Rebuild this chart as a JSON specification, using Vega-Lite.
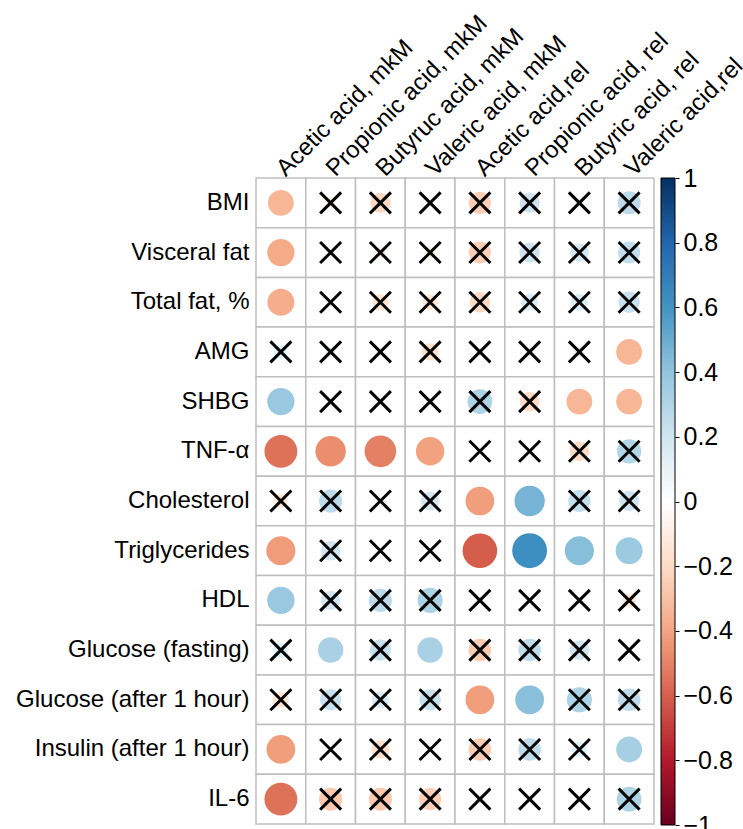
{
  "$schema": "https://vega.github.io/schema/vega-lite/v6.json",
  "autosize": {"type": "pad"},
  "padding": {"left": 15, "top": 10, "right": 0, "bottom": 0},
  "background": "white",
  "bounds": "flush",
  "spacing": 7,
  "config": {
    "view": {"stroke": null},
    "font": "Liberation Sans",
    "axis": {"domain": false, "ticks": false, "grid": false, "labelColor": "black", "labelFont": "Liberation Sans", "labelFontSize": 24, "title": null}
  },
  "hconcat": [
    {
      "width": 398,
      "height": 646,
      "data": {"values": [
        {"row":"BMI","col":"Acetic acid, mkM","r":-0.34,"sig":true},
        {"row":"BMI","col":"Propionic acid, mkM","r":-0.05,"sig":false},
        {"row":"BMI","col":"Butyruc acid, mkM","r":-0.21,"sig":false},
        {"row":"BMI","col":"Valeric acid, mkM","r":0.02,"sig":false},
        {"row":"BMI","col":"Acetic acid,rel","r":-0.25,"sig":false},
        {"row":"BMI","col":"Propionic acid, rel","r":0.21,"sig":false},
        {"row":"BMI","col":"Butyric acid, rel","r":0.05,"sig":false},
        {"row":"BMI","col":"Valeric acid,rel","r":0.27,"sig":false},

        {"row":"Visceral fat","col":"Acetic acid, mkM","r":-0.38,"sig":true},
        {"row":"Visceral fat","col":"Propionic acid, mkM","r":-0.02,"sig":false},
        {"row":"Visceral fat","col":"Butyruc acid, mkM","r":-0.06,"sig":false},
        {"row":"Visceral fat","col":"Valeric acid, mkM","r":-0.06,"sig":false},
        {"row":"Visceral fat","col":"Acetic acid,rel","r":-0.25,"sig":false},
        {"row":"Visceral fat","col":"Propionic acid, rel","r":0.21,"sig":false},
        {"row":"Visceral fat","col":"Butyric acid, rel","r":0.18,"sig":false},
        {"row":"Visceral fat","col":"Valeric acid,rel","r":0.25,"sig":false},

        {"row":"Total fat, %","col":"Acetic acid, mkM","r":-0.37,"sig":true},
        {"row":"Total fat, %","col":"Propionic acid, mkM","r":0.01,"sig":false},
        {"row":"Total fat, %","col":"Butyruc acid, mkM","r":-0.13,"sig":false},
        {"row":"Total fat, %","col":"Valeric acid, mkM","r":-0.12,"sig":false},
        {"row":"Total fat, %","col":"Acetic acid,rel","r":-0.21,"sig":false},
        {"row":"Total fat, %","col":"Propionic acid, rel","r":0.15,"sig":false},
        {"row":"Total fat, %","col":"Butyric acid, rel","r":0.15,"sig":false},
        {"row":"Total fat, %","col":"Valeric acid,rel","r":0.23,"sig":false},

        {"row":"AMG","col":"Acetic acid, mkM","r":0.1,"sig":false},
        {"row":"AMG","col":"Propionic acid, mkM","r":0.05,"sig":false},
        {"row":"AMG","col":"Butyruc acid, mkM","r":0.0,"sig":false},
        {"row":"AMG","col":"Valeric acid, mkM","r":-0.15,"sig":false},
        {"row":"AMG","col":"Acetic acid,rel","r":-0.03,"sig":false},
        {"row":"AMG","col":"Propionic acid, rel","r":0.04,"sig":false},
        {"row":"AMG","col":"Butyric acid, rel","r":0.05,"sig":false},
        {"row":"AMG","col":"Valeric acid,rel","r":-0.34,"sig":true},

        {"row":"SHBG","col":"Acetic acid, mkM","r":0.38,"sig":true},
        {"row":"SHBG","col":"Propionic acid, mkM","r":0.0,"sig":false},
        {"row":"SHBG","col":"Butyruc acid, mkM","r":0.0,"sig":false},
        {"row":"SHBG","col":"Valeric acid, mkM","r":0.0,"sig":false},
        {"row":"SHBG","col":"Acetic acid,rel","r":0.31,"sig":false},
        {"row":"SHBG","col":"Propionic acid, rel","r":-0.2,"sig":false},
        {"row":"SHBG","col":"Butyric acid, rel","r":-0.34,"sig":true},
        {"row":"SHBG","col":"Valeric acid,rel","r":-0.34,"sig":true},

        {"row":"TNF-α","col":"Acetic acid, mkM","r":-0.55,"sig":true},
        {"row":"TNF-α","col":"Propionic acid, mkM","r":-0.47,"sig":true},
        {"row":"TNF-α","col":"Butyruc acid, mkM","r":-0.51,"sig":true},
        {"row":"TNF-α","col":"Valeric acid, mkM","r":-0.41,"sig":true},
        {"row":"TNF-α","col":"Acetic acid,rel","r":0.0,"sig":false},
        {"row":"TNF-α","col":"Propionic acid, rel","r":0.0,"sig":false},
        {"row":"TNF-α","col":"Butyric acid, rel","r":-0.2,"sig":false},
        {"row":"TNF-α","col":"Valeric acid,rel","r":0.3,"sig":false},

        {"row":"Cholesterol","col":"Acetic acid, mkM","r":-0.1,"sig":false},
        {"row":"Cholesterol","col":"Propionic acid, mkM","r":0.27,"sig":false},
        {"row":"Cholesterol","col":"Butyruc acid, mkM","r":0.0,"sig":false},
        {"row":"Cholesterol","col":"Valeric acid, mkM","r":0.18,"sig":false},
        {"row":"Cholesterol","col":"Acetic acid,rel","r":-0.42,"sig":true},
        {"row":"Cholesterol","col":"Propionic acid, rel","r":0.47,"sig":true},
        {"row":"Cholesterol","col":"Butyric acid, rel","r":0.25,"sig":false},
        {"row":"Cholesterol","col":"Valeric acid,rel","r":0.21,"sig":false},

        {"row":"Triglycerides","col":"Acetic acid, mkM","r":-0.43,"sig":true},
        {"row":"Triglycerides","col":"Propionic acid, mkM","r":0.2,"sig":false},
        {"row":"Triglycerides","col":"Butyruc acid, mkM","r":0.0,"sig":false},
        {"row":"Triglycerides","col":"Valeric acid, mkM","r":0.0,"sig":false},
        {"row":"Triglycerides","col":"Acetic acid,rel","r":-0.61,"sig":true},
        {"row":"Triglycerides","col":"Propionic acid, rel","r":0.62,"sig":true},
        {"row":"Triglycerides","col":"Butyric acid, rel","r":0.43,"sig":true},
        {"row":"Triglycerides","col":"Valeric acid,rel","r":0.37,"sig":true},

        {"row":"HDL","col":"Acetic acid, mkM","r":0.38,"sig":true},
        {"row":"HDL","col":"Propionic acid, mkM","r":0.19,"sig":false},
        {"row":"HDL","col":"Butyruc acid, mkM","r":0.27,"sig":false},
        {"row":"HDL","col":"Valeric acid, mkM","r":0.32,"sig":false},
        {"row":"HDL","col":"Acetic acid,rel","r":0.0,"sig":false},
        {"row":"HDL","col":"Propionic acid, rel","r":0.0,"sig":false},
        {"row":"HDL","col":"Butyric acid, rel","r":0.04,"sig":false},
        {"row":"HDL","col":"Valeric acid,rel","r":-0.1,"sig":false},

        {"row":"Glucose (fasting)","col":"Acetic acid, mkM","r":0.12,"sig":false},
        {"row":"Glucose (fasting)","col":"Propionic acid, mkM","r":0.33,"sig":true},
        {"row":"Glucose (fasting)","col":"Butyruc acid, mkM","r":0.23,"sig":false},
        {"row":"Glucose (fasting)","col":"Valeric acid, mkM","r":0.33,"sig":true},
        {"row":"Glucose (fasting)","col":"Acetic acid,rel","r":-0.26,"sig":false},
        {"row":"Glucose (fasting)","col":"Propionic acid, rel","r":0.26,"sig":false},
        {"row":"Glucose (fasting)","col":"Butyric acid, rel","r":0.2,"sig":false},
        {"row":"Glucose (fasting)","col":"Valeric acid,rel","r":0.0,"sig":false},

        {"row":"Glucose (after 1 hour)","col":"Acetic acid, mkM","r":-0.13,"sig":false},
        {"row":"Glucose (after 1 hour)","col":"Propionic acid, mkM","r":0.23,"sig":false},
        {"row":"Glucose (after 1 hour)","col":"Butyruc acid, mkM","r":0.15,"sig":false},
        {"row":"Glucose (after 1 hour)","col":"Valeric acid, mkM","r":0.23,"sig":false},
        {"row":"Glucose (after 1 hour)","col":"Acetic acid,rel","r":-0.42,"sig":true},
        {"row":"Glucose (after 1 hour)","col":"Propionic acid, rel","r":0.42,"sig":true},
        {"row":"Glucose (after 1 hour)","col":"Butyric acid, rel","r":0.32,"sig":false},
        {"row":"Glucose (after 1 hour)","col":"Valeric acid,rel","r":0.26,"sig":false},

        {"row":"Insulin (after 1 hour)","col":"Acetic acid, mkM","r":-0.42,"sig":true},
        {"row":"Insulin (after 1 hour)","col":"Propionic acid, mkM","r":0.0,"sig":false},
        {"row":"Insulin (after 1 hour)","col":"Butyruc acid, mkM","r":-0.17,"sig":false},
        {"row":"Insulin (after 1 hour)","col":"Valeric acid, mkM","r":0.0,"sig":false},
        {"row":"Insulin (after 1 hour)","col":"Acetic acid,rel","r":-0.26,"sig":false},
        {"row":"Insulin (after 1 hour)","col":"Propionic acid, rel","r":0.26,"sig":false},
        {"row":"Insulin (after 1 hour)","col":"Butyric acid, rel","r":0.12,"sig":false},
        {"row":"Insulin (after 1 hour)","col":"Valeric acid,rel","r":0.34,"sig":true},

        {"row":"IL-6","col":"Acetic acid, mkM","r":-0.55,"sig":true},
        {"row":"IL-6","col":"Propionic acid, mkM","r":-0.27,"sig":false},
        {"row":"IL-6","col":"Butyruc acid, mkM","r":-0.27,"sig":false},
        {"row":"IL-6","col":"Valeric acid, mkM","r":-0.25,"sig":false},
        {"row":"IL-6","col":"Acetic acid,rel","r":-0.05,"sig":false},
        {"row":"IL-6","col":"Propionic acid, rel","r":0.0,"sig":false},
        {"row":"IL-6","col":"Butyric acid, rel","r":-0.03,"sig":false},
        {"row":"IL-6","col":"Valeric acid,rel","r":0.31,"sig":false}
      ]},
      "transform": [{"calculate": "abs(datum.r)", "as": "absr"}],
      "encoding": {
        "x": {"field": "col", "type": "nominal", "sort": null,
          "scale": {"paddingInner": 0, "paddingOuter": 0},
          "axis": {"orient": "top", "labelAngle": -45, "labelAlign": "left", "labelBaseline": "middle", "labelPadding": 6, "labelOverlap": false, "labelLimit": 400}},
        "y": {"field": "row", "type": "nominal", "sort": null,
          "scale": {"paddingInner": 0, "paddingOuter": 0},
          "axis": {"labelPadding": 7, "labelOverlap": false, "labelLimit": 400}}
      },
      "layer": [
        {"mark": {"type": "rect", "fill": "white", "stroke": "#bebebe", "strokeWidth": 1.5}},
        {"mark": {"type": "circle", "opacity": 1},
          "encoding": {
            "color": {"field": "r", "type": "quantitative",
              "scale": {"domain": [-1, -0.8, -0.6, -0.4, -0.2, 0, 0.2, 0.4, 0.6, 0.8, 1],
                "range": ["#67001F", "#B2182B", "#D6604D", "#F4A582", "#FDDBC7", "#FFFFFF", "#D1E5F0", "#92C5DE", "#4393C3", "#2166AC", "#053061"]},
              "legend": null},
            "size": {"field": "absr", "type": "quantitative", "scale": {"domain": [0, 1], "range": [0, 1963], "zero": true}, "legend": null}
          }},
        {"transform": [{"filter": "!datum.sig"}],
          "mark": {"type": "point", "shape": "M-1,-1L1,1M-1,1L1,-1", "filled": false, "stroke": "black", "strokeWidth": 3, "size": 441, "opacity": 1}}
      ]
    },
    {
      "width": 14,
      "height": 647,
      "data": {"values": [{"lo": -1, "hi": 1}]},
      "mark": {"type": "rect", "stroke": "black", "strokeWidth": 1,
        "fill": {"gradient": "linear", "x1": 0, "y1": 1, "x2": 0, "y2": 0,
          "stops": [
            {"offset": 0.0, "color": "#67001F"},
            {"offset": 0.1, "color": "#B2182B"},
            {"offset": 0.2, "color": "#D6604D"},
            {"offset": 0.3, "color": "#F4A582"},
            {"offset": 0.4, "color": "#FDDBC7"},
            {"offset": 0.5, "color": "#FFFFFF"},
            {"offset": 0.6, "color": "#D1E5F0"},
            {"offset": 0.7, "color": "#92C5DE"},
            {"offset": 0.8, "color": "#4393C3"},
            {"offset": 0.9, "color": "#2166AC"},
            {"offset": 1.0, "color": "#053061"}
          ]}},
      "encoding": {
        "y": {"field": "lo", "type": "quantitative",
          "scale": {"domain": [-1, 1], "nice": false, "zero": false},
          "axis": {"orient": "right", "values": [-1, -0.8, -0.6, -0.4, -0.2, 0, 0.2, 0.4, 0.6, 0.8, 1], "format": "~g",
            "ticks": true, "tickSize": 4, "tickColor": "black", "tickWidth": 1, "labelPadding": 4,
            "labelFontSize": 25, "labelBaseline": "middle", "labelFlush": false, "labelOverlap": false, "domain": false}},
        "y2": {"field": "hi"}
      }
    }
  ]
}
